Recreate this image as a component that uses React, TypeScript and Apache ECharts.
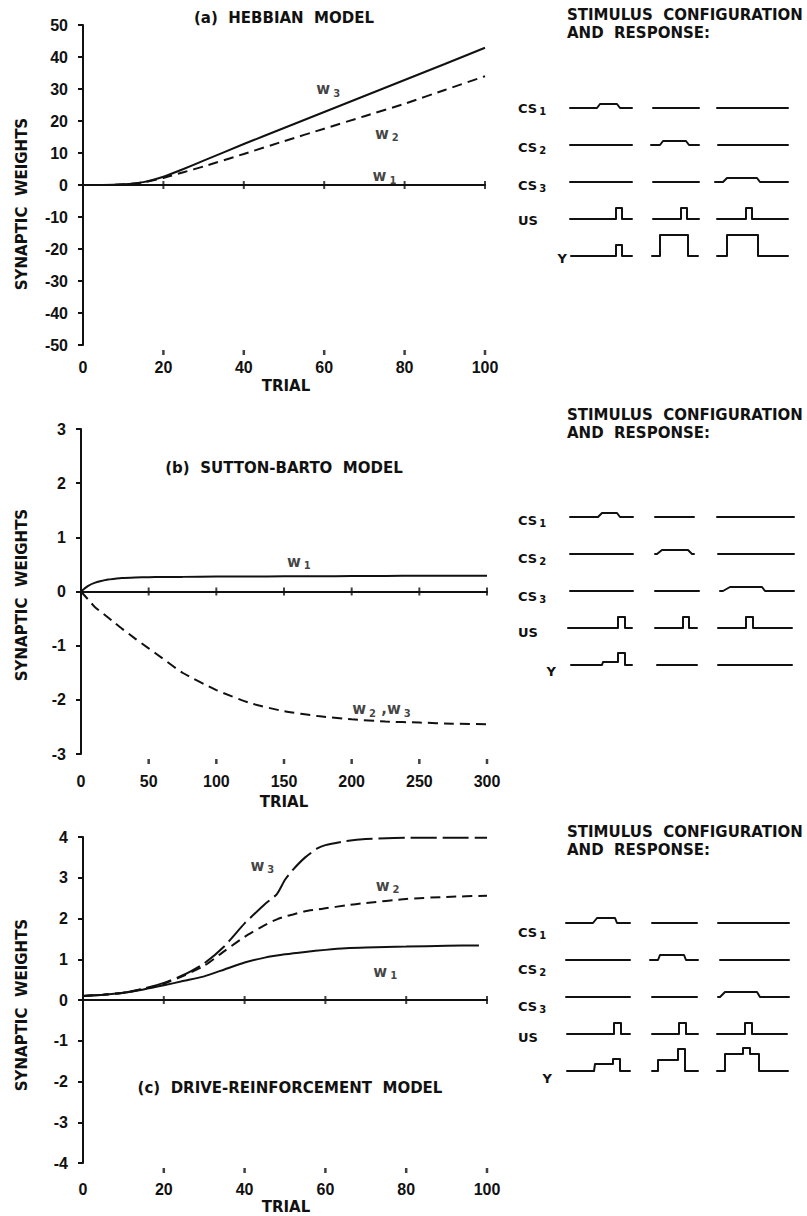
import { useEffect, useRef } from "react";
import * as echarts from "echarts";

type Pt = [number, number];

// ---- (a) Hebbian model ----
const hebbTrials = [0, 5, 10, 15, 20, 25, 30, 40, 50, 60, 70, 80, 90, 100];
const hebbW1 = [0, 0, 0, 0, 0, 0, 0, 0, 0, 0, 0, 0, 0, 0];
const hebbW2 = [0, 0, 0.2, 0.8, 2.2, 4.0, 5.8, 9.7, 13.7, 17.6, 21.5, 25.4, 29.7, 34.0];
const hebbW3 = [0, 0, 0.2, 0.9, 2.6, 5.0, 7.6, 12.8, 17.8, 22.8, 27.8, 32.8, 37.8, 42.9];
const hebbCross = [20, 40, 60, 80, 100];

// ---- (b) Sutton-Barto model ----
const sbTrials = [0, 5, 10, 20, 25, 30, 40, 50, 60, 75, 100, 125, 150, 175, 200, 225, 250, 275, 300];
const sbW1 = [0, 0.1, 0.16, 0.22, 0.235, 0.25, 0.26, 0.265, 0.268, 0.27, 0.275, 0.278, 0.28, 0.282, 0.285, 0.287, 0.29, 0.29, 0.29];
const sbW23 = [0, -0.14, -0.28, -0.48, -0.58, -0.68, -0.87, -1.05, -1.23, -1.5, -1.82, -2.06, -2.21, -2.3, -2.36, -2.4, -2.42, -2.44, -2.45];
const sbCross = [50, 100, 150, 200, 250, 300];

// ---- (c) Drive-reinforcement model ----
const drTrials = [0, 5, 10, 15, 20, 25, 30, 35, 40, 45, 48, 50, 52, 55, 58, 60, 65, 70, 80, 90, 100];
const drW2 = [0.1, 0.13, 0.18, 0.27, 0.4, 0.6, 0.84, 1.2, 1.55, 1.84, 1.98, 2.05, 2.1, 2.18, 2.22, 2.25, 2.32, 2.38, 2.48, 2.53, 2.56];
const drW3 = [0.1, 0.13, 0.18, 0.28, 0.42, 0.62, 0.9, 1.32, 1.88, 2.35, 2.6, 2.95, 3.2, 3.5, 3.72, 3.8, 3.9, 3.95, 3.98, 3.98, 3.98];
const drW1Trials = [0, 5, 10, 15, 20, 25, 30, 35, 40, 45, 50, 55, 60, 65, 70, 80, 90, 98];
const drW1 = [0.1, 0.13, 0.18, 0.26, 0.36, 0.47, 0.58, 0.75, 0.92, 1.04, 1.12, 1.18, 1.23, 1.27, 1.29, 1.31, 1.33, 1.34];
const drCross = [20, 40, 60, 80, 100];

// ---- stimulus / response traces: [time, level], three trial types per row ----
const hebbCS1: Pt[][] = [[[10, 0], [37, 0], [40, 4], [57, 4], [60, 0], [72, 0]], [[93, 0], [139, 0]], [[157, 0], [228, 0]]];
const hebbCS2: Pt[][] = [[[10, 0], [72, 0]], [[91, 0], [100, 0], [103, 4], [126, 4], [129, 0], [139, 0]], [[158, 0], [228, 0]]];
const hebbCS3: Pt[][] = [[[10, 0], [72, 0]], [[93, 0], [139, 0]], [[155, 0], [163, 0], [167, 4], [197, 4], [200, 0], [228, 0]]];
const hebbUS: Pt[][] = [[[10, 0], [56, 0], [56, 11], [62, 11], [62, 0], [72, 0]], [[93, 0], [121, 0], [121, 11], [127, 11], [127, 0], [139, 0]], [[157, 0], [186, 0], [186, 11], [192, 11], [192, 0], [228, 0]]];
const hebbY: Pt[][] = [[[11, 0], [56, 0], [56, 11], [62, 11], [62, 0], [72, 0]], [[92, 0], [100, 0], [100, 21], [128, 21], [128, 0], [138, 0]], [[157, 0], [167, 0], [167, 21], [198, 21], [198, 0], [228, 0]]];

const sbCS1: Pt[][] = [[[10, 0], [38, 0], [42, 4], [57, 4], [60, 0], [73, 0]], [[95, 0], [134, 0]], [[157, 0], [234, 0]]];
const sbCS2: Pt[][] = [[[10, 0], [73, 0]], [[95, 0], [97, 0], [102, 4], [128, 4], [132, 0], [134, 0]], [[158, 0], [234, 0]]];
const sbCS3: Pt[][] = [[[10, 0], [73, 0]], [[95, 0], [139, 0]], [[160, 0], [163, 0], [170, 4], [202, 4], [205, 0], [234, 0]]];
const sbUS: Pt[][] = [[[8, 0], [58, 0], [58, 11], [65, 11], [65, 0], [72, 0]], [[95, 0], [123, 0], [123, 11], [129, 11], [129, 0], [137, 0]], [[158, 0], [186, 0], [186, 11], [193, 11], [193, 0], [232, 0]]];
const sbY: Pt[][] = [[[11, 0], [42, 0], [43, 3], [58, 3], [58, 12], [65, 12], [65, 0], [72, 0]], [[97, 0], [137, 0]], [[158, 0], [232, 0]]];

const drCS1: Pt[][] = [[[6, 0], [33, 0], [37, 5], [55, 5], [57, 0], [70, 0]], [[92, 0], [137, 0]], [[158, 0], [229, 0]]];
const drCS2: Pt[][] = [[[6, 0], [70, 0]], [[90, 0], [98, 0], [100, 5], [124, 5], [126, 0], [138, 0]], [[160, 0], [229, 0]]];
const drCS3: Pt[][] = [[[6, 0], [70, 0]], [[92, 0], [137, 0]], [[158, 0], [160, 0], [165, 5], [197, 5], [200, 0], [229, 0]]];
const drUS: Pt[][] = [[[7, 0], [54, 0], [54, 11], [61, 11], [61, 0], [70, 0]], [[92, 0], [119, 0], [119, 11], [126, 11], [126, 0], [138, 0]], [[157, 0], [185, 0], [185, 11], [192, 11], [192, 0], [227, 0]]];
const drY: Pt[][] = [[[7, 0], [34, 0], [35, 7], [53, 7], [53, 12], [60, 12], [60, 0], [70, 0]], [[92, 0], [98, 0], [98, 11], [118, 11], [118, 22], [125, 22], [125, 0], [138, 0]], [[157, 0], [165, 0], [165, 17], [183, 17], [183, 23], [190, 23], [190, 17], [199, 17], [199, 0], [228, 0]]];

const traceRowNames = ["CS", "CS", "CS", "US", "Y"];
const traceRowSubs = ["1", "2", "3", "", ""];

const INK = "#111";
const SANS = "DejaVu Sans";
const NUM = "Liberation Sans";
const ROW_STEP = 37;

const panels = [
  { xMax: 100, xInt: 20, yMin: -50, yMax: 50, yInt: 10, cross: hebbCross, labelMargin: 8 },
  { xMax: 300, xInt: 50, yMin: -3, yMax: 3, yInt: 1, cross: sbCross, labelMargin: 13 },
  { xMax: 100, xInt: 20, yMin: -4, yMax: 4, yInt: 1, cross: drCross, labelMargin: 12 },
];

const plotGrids = [
  { left: 83, top: 25, width: 402, height: 320 },
  { left: 81, top: 429, width: 406, height: 325 },
  { left: 83, top: 837, width: 404, height: 326 },
];

function zip(xs: number[], ys: number[]): Pt[] {
  return xs.map((x, i) => [x, ys[i]] as Pt);
}

const richW = {
  w: { fontFamily: SANS, fontWeight: "bold", fontSize: 15, lineHeight: 18, color: INK },
  s: { fontFamily: SANS, fontWeight: "bold", fontSize: 10, color: INK, verticalAlign: "bottom", padding: [0, 0, 0, 3] },
};

function buildTexts(): any[] {
  const g: any[] = [];
  const txt = (x: number, y: number, text: string, size: number, align = "center", extra: any = {}) => ({
    type: "text", x, y, silent: true, ...extra,
    style: { text, fill: INK, fontFamily: SANS, fontWeight: "bold", fontSize: size, align, verticalAlign: "middle" },
  });
  g.push(txt(284, 18, "(a)  HEBBIAN  MODEL", 15));
  g.push(txt(284, 468, "(b)  SUTTON-BARTO  MODEL", 15));
  g.push(txt(290, 1088, "(c)  DRIVE-REINFORCEMENT  MODEL", 15));
  [204, 595, 1005].forEach((cy) => g.push(txt(22, cy, "SYNAPTIC  WEIGHTS", 15, "center", { rotation: Math.PI / 2 })));
  [386, 802, 1207].forEach((cy, i) => g.push(txt(i === 1 ? 284 : 286, cy, "TRIAL", 15)));

  [15, 415, 832].forEach((ty) => {
    g.push(txt(567, ty, "STIMULUS  CONFIGURATION", 15, "left"));
    g.push(txt(567, ty + 18, "AND  RESPONSE:", 15, "left"));
  });

  const rowLabelY = [
    [108, 147, 185, 220, 258],
    [520, 558, 596, 632, 671],
    [932, 969, 1006, 1037, 1078],
  ];
  const yLabelRight = [567, 556, 552];
  rowLabelY.forEach((ys, d) => {
    ys.forEach((cy, r) => {
      const name = traceRowNames[r];
      const sub = traceRowSubs[r];
      const isY = name === "Y";
      g.push({
        type: "text", x: isY ? yLabelRight[d] : 518, y: cy, silent: true,
        style: {
          text: sub ? `{m|${name}}{s|${sub}}` : `{m|${name}}`,
          align: isY ? "right" : "left", verticalAlign: "middle",
          rich: {
            m: { fontFamily: SANS, fontWeight: "bold", fontSize: 13, lineHeight: 16, fill: INK, color: INK },
            s: { fontFamily: SANS, fontWeight: "bold", fontSize: 10, fill: INK, color: INK, verticalAlign: "bottom", padding: [0, 0, 0, 2] },
          },
        },
      });
    });
  });
  return g;
}

function buildOption() {
  const grid: any[] = [
    ...plotGrids,
    { left: 560, top: 100, width: 240, height: 160 },
    { left: 560, top: 509, width: 240, height: 160 },
    { left: 560, top: 915, width: 240, height: 160 },
    // thin strips just under each plot that carry the hanging trial ticks
    ...plotGrids.map((pg) => ({ left: pg.left, width: pg.width, top: pg.top + pg.height + 5, height: 5 })),
  ];

  const xAxis: any[] = [];
  const yAxis: any[] = [];
  const tickText = { fontFamily: NUM, fontWeight: "bold", fontSize: 16, color: INK };

  panels.forEach((p, i) => {
    // bottom scale: numbers only
    xAxis.push({
      type: "value", gridIndex: i, min: 0, max: p.xMax, interval: p.xInt, position: "bottom", offset: 6,
      axisLine: { show: false, onZero: false },
      axisTick: { show: false },
      axisLabel: { ...tickText, margin: p.labelMargin },
      splitLine: { show: false },
    });
    // the zero line across the plot
    xAxis.push({
      type: "value", gridIndex: i, min: 0, max: p.xMax, interval: p.xInt, position: "top",
      axisLine: { show: true, onZero: true, lineStyle: { color: INK, width: 2 } },
      axisTick: { show: false }, axisLabel: { show: false }, splitLine: { show: false },
    });
    yAxis.push({
      type: "value", gridIndex: i, min: p.yMin, max: p.yMax, interval: p.yInt, position: "left",
      axisLine: { show: true, onZero: false, lineStyle: { color: INK, width: 2 } },
      axisTick: { show: true, length: 5, lineStyle: { color: INK, width: 2 } },
      axisLabel: { ...tickText, margin: 15 },
      splitLine: { show: false },
    });
  });
  for (let d = 0; d < 3; d++) {
    xAxis.push({ type: "value", gridIndex: 3 + d, min: 0, max: 240, show: false });
    yAxis.push({ type: "value", gridIndex: 3 + d, min: -152, max: 8, show: false });
  }
  panels.forEach((p, i) => {
    xAxis.push({ type: "value", gridIndex: 6 + i, min: 0, max: p.xMax, show: false });
    yAxis.push({ type: "value", gridIndex: 6 + i, min: 0, max: 1, show: false });
  });

  const series: any[] = [];
  const curve = (p: number, data: Pt[], dash: any) => ({
    type: "line", xAxisIndex: 2 * p, yAxisIndex: p, data, showSymbol: false, symbol: "none",
    smooth: 0.2, silent: true, z: 3,
    lineStyle: { color: INK, width: 2, type: dash },
  });
  // "+" marks where the zero line meets each trial tick
  const crosses = (p: number, vals: number[]) => ({
    type: "scatter", xAxisIndex: 2 * p, yAxisIndex: p, data: vals.map((v) => [v, 0]),
    symbol: "rect", symbolSize: [2, 8], itemStyle: { color: INK }, silent: true, z: 4,
  });
  // short tick marks hanging under the plot, one per trial number
  const footTicks = (p: number, vals: number[]) => ({
    type: "scatter", xAxisIndex: 9 + p, yAxisIndex: 6 + p, data: vals.map((v) => [v, 0.5]),
    symbol: "rect", symbolSize: [2.5, 5], itemStyle: { color: INK }, silent: true, z: 4,
  });
  const tag = (p: number, at: Pt, text: string) => ({
    type: "scatter", xAxisIndex: 2 * p, yAxisIndex: p, data: [at], symbolSize: 1,
    itemStyle: { color: "transparent" }, silent: true, z: 5,
    label: { show: true, position: "inside", formatter: text, rich: richW },
  });

  series.push(curve(0, zip(hebbTrials, hebbW1), "solid"));
  series.push(curve(0, zip(hebbTrials, hebbW2), [10, 6]));
  series.push(curve(0, zip(hebbTrials, hebbW3), "solid"));
  series.push(crosses(0, hebbCross));
  series.push(footTicks(0, hebbCross));
  series.push(tag(0, [61, 30], "{w|w}{s|3}"));
  series.push(tag(0, [75.6, 16], "{w|w}{s|2}"));
  series.push(tag(0, [75, 2.8], "{w|w}{s|1}"));

  series.push(curve(1, zip(sbTrials, sbW1), "solid"));
  series.push(curve(1, zip(sbTrials, sbW23), [10, 6]));
  series.push(crosses(1, sbCross));
  series.push(footTicks(1, sbCross));
  series.push(tag(1, [161, 0.55], "{w|w}{s|1}"));
  series.push(tag(1, [222, -2.17], "{w|w}{s|2}{w| ,w}{s|3}"));

  series.push(curve(2, zip(drW1Trials, drW1), "solid"));
  series.push(curve(2, zip(drTrials, drW2), [10, 6]));
  series.push(curve(2, zip(drTrials, drW3), [26, 6]));
  series.push(crosses(2, drCross));
  series.push(footTicks(2, drCross));
  series.push(tag(2, [44.4, 3.29], "{w|w}{s|3}"));
  series.push(tag(2, [75.4, 2.8], "{w|w}{s|2}"));
  series.push(tag(2, [74.8, 0.69], "{w|w}{s|1}"));

  const diagrams = [
    [hebbCS1, hebbCS2, hebbCS3, hebbUS, hebbY],
    [sbCS1, sbCS2, sbCS3, sbUS, sbY],
    [drCS1, drCS2, drCS3, drUS, drY],
  ];
  diagrams.forEach((rows, d) => {
    rows.forEach((segments, r) => {
      segments.forEach((seg) => {
        series.push({
          type: "line", xAxisIndex: 6 + d, yAxisIndex: 3 + d, showSymbol: false, symbol: "none", silent: true,
          data: seg.map(([t, v]) => [t, v - r * ROW_STEP]),
          lineStyle: { color: INK, width: 2, join: "round", cap: "round" },
        });
      });
    });
  });

  return { animation: false, backgroundColor: "#fff", grid, xAxis, yAxis, series, graphic: buildTexts() };
}

export default function App() {
  const ref = useRef<HTMLDivElement>(null);
  useEffect(() => {
    document.body.style.margin = "0";
    if (!ref.current) return;
    const chart = echarts.init(ref.current, undefined, { renderer: "svg" });
    chart.setOption(buildOption() as any);
    return () => chart.dispose();
  }, []);
  return <div ref={ref} style={{ width: 807, height: 1216, background: "#fff" }} />;
}
